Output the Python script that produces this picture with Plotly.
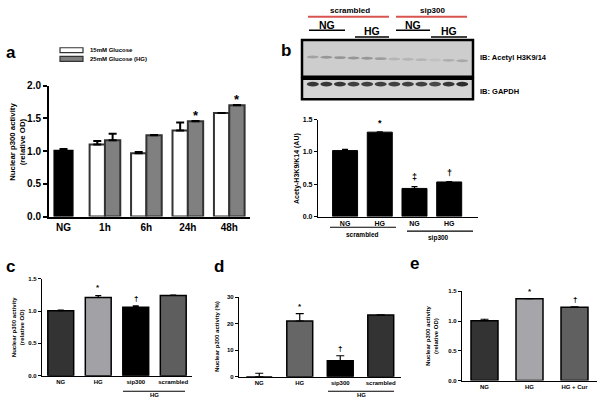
import plotly.graph_objects as go

W, H = 600, 405
def px(x): return x / W
def py(y): return 1 - y / H

FONT = "Liberation Sans, Arial, sans-serif"

# ---------------- Data ----------------
# Panel a
a_cats = ['NG', '1h', '6h', '24h', '48h']
a_ng_val = [1.01]
a_ng_err = [0.02]
a_time = ['1h', '6h', '24h', '48h']
a_15mM = [1.10, 0.965, 1.315, 1.58]
a_15mM_err = [0.055, 0.02, 0.12, 0.0]
a_25mM = [1.165, 1.24, 1.455, 1.70]
a_25mM_err = [0.10, 0.005, 0.005, 0.005]
a_sig = ['', '', '*', '*']
a_legend = ['15mM Glucose', '25mM Glucose (HG)']

# Panel b
b_cats = ['NG ', 'HG ', 'NG', 'HG']
b_labels = ['NG', 'HG', 'NG', 'HG']
b_vals = [1.02, 1.305, 0.435, 0.535]
b_err = [0.02, 0.005, 0.03, 0.005]
b_sig = ['', '*', '‡', '†']
b_groups = ['scrambled', 'sip300']
b_blot_labels = ['IB: Acetyl H3K9/14', 'IB: GAPDH']
b_acetyl_int = [0.35, 0.45, 0.45, 0.45, 0.45, 0.4, 0.2, 0.2, 0.2, 0.1, 0.25, 0.3]
b_gapdh_int = [0.85, 0.85, 0.85, 0.8, 0.8, 0.8, 0.8, 0.8, 0.8, 0.75, 0.85, 0.9]

# Panel c
c_cats = ['NG', 'HG', 'sip300', 'scrambled']
c_vals = [1.005, 1.21, 1.06, 1.24]
c_err = [0.01, 0.03, 0.02, 0.005]
c_sig = ['', '*', '†', '']
c_colors = ['#333333', '#a2a2a6', '#000000', '#5e5e5e']

# Panel d
d_cats = ['NG', 'HG', 'sip300', 'scrambled']
d_vals = [0.0, 21.0, 6.0, 23.3]
d_err = [1.3, 2.8, 1.9, 0.0]
d_sig = ['', '*', '†', '']
d_colors = ['#333333', '#666666', '#000000', '#333333']

# Panel e
e_cats = ['NG', 'HG', 'HG + Cur']
e_vals = [1.005, 1.375, 1.23]
e_err = [0.025, 0.0, 0.01]
e_sig = ['', '*', '†']
e_colors = ['#333333', '#a6a6aa', '#606060']

# ---------------- Figure ----------------
fig = go.Figure()

def eb(err, th=1.5, w=3):
    return dict(type='data', array=err, arrayminus=[0] * len(err), symmetric=False,
                color='black', thickness=th, width=w)

# Panel a
fig.add_trace(go.Bar(x=['NG'], y=a_ng_val, error_y=eb(a_ng_err, 2, 4), xaxis='x', yaxis='y',
                     marker=dict(color='black', line=dict(color='black', width=1.5)),
                     width=0.45, offset=-0.225, name='NG'))
fig.add_trace(go.Bar(x=a_time, y=a_15mM, error_y=eb(a_15mM_err, 2, 4), xaxis='x', yaxis='y',
                     marker=dict(color='white', line=dict(color='#333333', width=2)),
                     width=0.37, offset=-0.37, name=a_legend[0]))
fig.add_trace(go.Bar(x=a_time, y=a_25mM, error_y=eb(a_25mM_err, 2, 4), xaxis='x', yaxis='y',
                     marker=dict(color='#808080', line=dict(color='#333333', width=2)),
                     width=0.37, offset=0.0, name=a_legend[1]))

# Panel b
fig.add_trace(go.Bar(x=b_cats, y=b_vals, error_y=eb(b_err, 1.2, 3), xaxis='x2', yaxis='y2',
                     marker=dict(color='black', line=dict(color='black', width=1)),
                     width=0.72))
# Panel c
fig.add_trace(go.Bar(x=c_cats, y=c_vals, error_y=eb(c_err, 1.2, 3), xaxis='x3', yaxis='y3',
                     marker=dict(color=c_colors, line=dict(color='black', width=1.5)),
                     width=0.69))
# Panel d
fig.add_trace(go.Bar(x=d_cats, y=d_vals, error_y=eb(d_err, 1.2, 4), xaxis='x4', yaxis='y4',
                     marker=dict(color=d_colors, line=dict(color='black', width=1.5)),
                     width=0.64))
# Panel e
fig.add_trace(go.Bar(x=e_cats, y=e_vals, error_y=eb(e_err, 1.2, 4), xaxis='x5', yaxis='y5',
                     marker=dict(color=e_colors, line=dict(color='black', width=1.5)),
                     width=0.6))

def xax(dom, anchor, size, rng, lw=1.2, labels=None, cats=None):
    d = dict(domain=dom, anchor=anchor, showline=True, linecolor='black', linewidth=lw,
             ticks='', tickfont=dict(family=FONT, size=size, color='black', weight='bold'),
             showgrid=False, zeroline=False, fixedrange=True, type='category', range=rng)
    if cats is not None:
        d['categoryorder'] = 'array'
        d['categoryarray'] = cats
    if labels is not None:
        d['tickmode'] = 'array'
        d['tickvals'] = cats
        d['ticktext'] = labels
    return d

def yax(dom, anchor, rng, dtick, size, lw=1.2, fmt='.1f', tlen=3):
    return dict(domain=dom, anchor=anchor, range=rng, dtick=dtick, tick0=0, showline=True,
                linecolor='black', linewidth=lw, ticks='outside', ticklen=tlen, tickwidth=lw,
                tickcolor='black', tickformat=fmt,
                tickfont=dict(family=FONT, size=size, color='black', weight='bold'),
                showgrid=False, zeroline=False, fixedrange=True)

fig.update_layout(
    width=W, height=H, margin=dict(l=0, r=0, t=0, b=0),
    plot_bgcolor='white', paper_bgcolor='white', showlegend=False, barmode='overlay',
    font=dict(family=FONT, color='black'),
    xaxis=xax([px(49), px(250)], 'y', 10, [-0.35, 4.5], 2, cats=a_cats),
    yaxis=yax([py(217), py(82)], 'x', [0, 2.0], 0.5, 10, 2, tlen=4),
    xaxis2=xax([px(318), px(478)], 'y2', 7, [-0.78, 3.83], 1.2, labels=b_labels, cats=b_cats),
    yaxis2=yax([py(217), py(117)], 'x2', [0, 1.5], 0.5, 7),
    xaxis3=xax([px(42), px(192)], 'y3', 6, [-0.5, 3.5], 1.2, cats=c_cats),
    yaxis3=yax([py(381), py(281)], 'x3', [0, 1.5], 0.5, 6),
    xaxis4=xax([px(239), px(401)], 'y4', 6, [-0.5, 3.5], 1.2, cats=d_cats),
    yaxis4=yax([py(382), py(300)], 'x4', [0, 30], 10, 6, fmt='d'),
    xaxis5=xax([px(462), px(597)], 'y5', 6, [-0.5, 2.5], 1.2, cats=e_cats),
    yaxis5=yax([py(386), py(294)], 'x5', [0, 1.5], 0.5, 6),
)

ann = []
shapes = []

def text(x, y, s, size, bold=True, angle=0, xanchor='center', yanchor='middle', color='black'):
    ann.append(dict(x=px(x), y=py(y), xref='paper', yref='paper', text=(f'<b>{s}</b>' if bold else s),
                    showarrow=False, textangle=angle, xanchor=xanchor, yanchor=yanchor,
                    font=dict(family=FONT, size=size, color=color)))

def line(x0, x1, y, color='black', w=1.2):
    shapes.append(dict(type='line', xref='paper', yref='paper', x0=px(x0), x1=px(x1),
                       y0=py(y), y1=py(y), line=dict(color=color, width=w)))

def sig(xref, yref, xs, vals, errs, marks, size, shift=1, offs=None):
    for i, (xv, v, e, m) in enumerate(zip(xs, vals, errs, marks)):
        if not m:
            continue
        d = dict(x=xv, y=v + e, xref=xref, yref=yref, text=f'<b>{m}</b>', showarrow=False,
                 yanchor='bottom', yshift=shift, font=dict(family=FONT, size=size, color='black'))
        if offs is not None:
            d['xshift'] = offs
        ann.append(d)

# Panel labels
text(4, 48, 'a', 17, xanchor='left')
text(279, 46, 'b', 17, xanchor='left')
text(4, 268, 'c', 17, xanchor='left')
text(212, 268, 'd', 17, xanchor='left')
text(408, 265, 'e', 17, xanchor='left')

# Panel a legend
shapes.append(dict(type='rect', xref='paper', yref='paper', x0=px(60), x1=px(83), y0=py(48), y1=py(43),
                   fillcolor='white', line=dict(color='#333333', width=1.2)))
shapes.append(dict(type='rect', xref='paper', yref='paper', x0=px(60), x1=px(83), y0=py(57), y1=py(52),
                   fillcolor='#808080', line=dict(color='#333333', width=1.2)))
text(88, 45.5, a_legend[0], 6, xanchor='left')
text(88, 54.5, a_legend[1], 6, xanchor='left')
# Panel a y title
text(18, 140, 'Nuclear p300 activity<br>(relative OD)', 7.8, angle=-90)
# Panel a significance (on 25mM bars)
sig('x', 'y', a_time, a_25mM, a_25mM_err, a_sig, 13, shift=-4, offs=8)

# Panel b blot
blot_x0, blot_x1 = 302, 473
shapes.append(dict(type='rect', xref='paper', yref='paper', x0=px(blot_x0), x1=px(blot_x1),
                   y0=py(73), y1=py(35), fillcolor='#cdcdcd', line=dict(color='black', width=2.5)))
shapes.append(dict(type='rect', xref='paper', yref='paper', x0=px(blot_x0), x1=px(blot_x1),
                   y0=py(96), y1=py(75), fillcolor='#d4d4d4', line=dict(color='black', width=2.5)))
n_lanes = len(b_acetyl_int)
lane_w = (blot_x1 - blot_x0 - 8) / n_lanes
for i in range(n_lanes):
    cx = blot_x0 + 4 + lane_w * (i + 0.5)
    ya = 52 + i * 0.35
    shapes.append(dict(type='circle', xref='paper', yref='paper', x0=px(cx - 6), x1=px(cx + 6),
                       y0=py(ya + 2), y1=py(ya - 1), fillcolor='#555555', opacity=b_acetyl_int[i],
                       line=dict(width=0)))
    shapes.append(dict(type='circle', xref='paper', yref='paper', x0=px(cx - 6), x1=px(cx + 6),
                       y0=py(83), y1=py(78), fillcolor='#1a1a1a', opacity=b_gapdh_int[i],
                       line=dict(width=0)))
text(478, 53, b_blot_labels[0], 7.5, xanchor='left')
text(478, 88, b_blot_labels[1], 7.5, xanchor='left')
# Panel b header
text(350, 5, b_groups[0], 8)
text(432, 5, b_groups[1], 8)
line(308, 389, 11, color='#d9534f', w=2)
line(396, 467, 11, color='#d9534f', w=2)
text(327, 20, 'NG', 10.5)
text(372, 26, 'HG', 10.5)
text(413, 20, 'NG', 10.5)
text(449, 26, 'HG', 10.5)
line(309, 345, 25, w=1.5)
line(355, 389, 32, w=1.5)
line(396, 430, 25, w=1.5)
line(431, 467, 32, w=1.5)
# Panel b chart extras
text(297, 168, 'Acety-H3K9/K14 (AU)', 7, angle=-90)
sig('x2', 'y2', b_cats, b_vals, b_err, b_sig, 9, shift=2)
line(330, 396, 228)
line(407, 473, 232)
text(362, 235, b_groups[0], 6.5)
text(438, 239, b_groups[1], 6.5)

# Panel c extras
text(18, 331, 'Nuclear p300 activity<br>(relative OD)', 6, angle=-90)
sig('x3', 'y3', c_cats, c_vals, c_err, c_sig, 8, shift=1)
line(123, 185, 397)
text(154, 401, 'HG', 6)

# Panel d extras
text(217, 341, 'Nuclear p300 activity (%)', 6, angle=-90)
sig('x4', 'y4', d_cats, d_vals, d_err, d_sig, 8, shift=1)
line(328, 394, 397)
text(361, 401, 'HG', 6)

# Panel e extras
text(432, 340, 'Nuclear p300 activity<br>(relative OD)', 6, angle=-90)
sig('x5', 'y5', e_cats, e_vals, e_err, e_sig, 8, shift=1)

fig.update_layout(annotations=ann, shapes=shapes)
fig.write_html("out.html", config={'displayModeBar': False},
               post_script="document.body.style.margin='0';document.body.style.overflow='hidden';")
